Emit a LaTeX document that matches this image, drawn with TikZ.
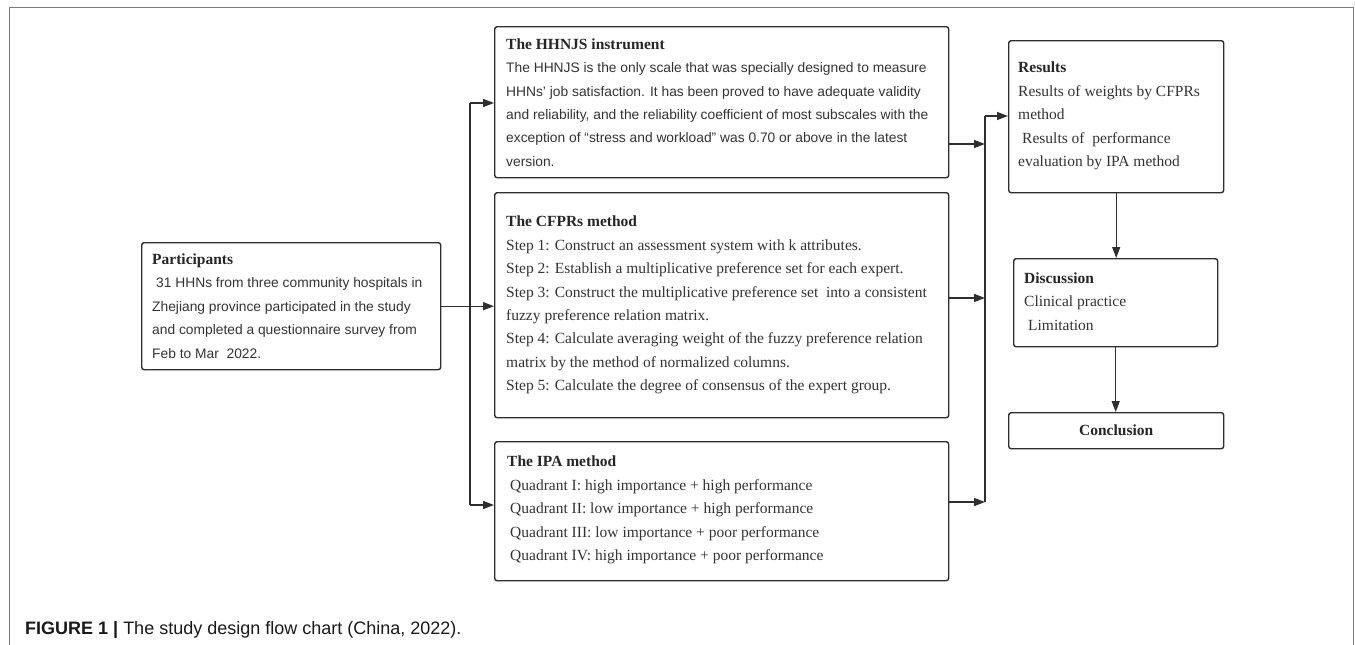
\documentclass[tikz,border=0pt]{standalone}
\usepackage{fontspec}
\setmainfont{Liberation Serif}
\setsansfont{Liberation Sans}
\usetikzlibrary{arrows.meta}
\definecolor{ln}{HTML}{2E2E2E}
\definecolor{tx}{HTML}{333333}
\definecolor{frm}{HTML}{7A7A7A}
\newcommand\bsans{\sffamily\fontsize{13.8}{23.4}\selectfont}
\newcommand\bser{\rmfamily\fontsize{15.5}{23.4}\selectfont}
\newcommand\hd[1]{{\rmfamily\bfseries\fontsize{15.5}{23.4}\selectfont\color{black!85}#1}}
\begin{document}
\begin{tikzpicture}[x=1pt,y=-1pt,
  box/.style={draw=ln, line width=1.4pt, rounded corners=2.5pt, inner sep=0pt, anchor=north west},
  txt/.style={anchor=west, align=left, inner sep=0pt, text=tx, font=\fontsize{15.5}{23.4}\selectfont},
  conn/.style={draw=ln, line width=1.4pt},
  arr/.style={conn, -{Triangle[length=11pt,width=8pt]}},
]
\useasboundingbox (0,0) rectangle (1355,645);
\draw[frm, line width=1pt] (9,645) -- (9,7) -- (1353,7) -- (1353,645);

% boxes
\node[box, minimum width=299pt, minimum height=127pt] (part) at (141,242) {};
\node[box, minimum width=454pt, minimum height=151pt] (hh) at (494,26) {};
\node[box, minimum width=454pt, minimum height=225pt] (cf) at (494,192) {};
\node[box, minimum width=454pt, minimum height=139pt] (ipa) at (494,441) {};
\node[box, minimum width=215pt, minimum height=152pt] (res) at (1008,40) {};
\node[box, minimum width=204pt, minimum height=88pt] (dis) at (1013,258) {};
\node[box, minimum width=215pt, minimum height=36pt] (con) at (1008,412) {};

% texts
\node[txt] (partt) at (152,306) {\hd{Participants}\\
\bsans\hspace*{4pt}31 HHNs from three community hospitals in\\
\bsans Zhejiang province participated in the study\\
\bsans and completed a questionnaire survey from\\
\bsans Feb to Mar\ \ 2022.};

\node[txt] (hht) at (506,102.5) {\hd{The HHNJS instrument}\\
\bsans The HHNJS is the only scale that was specially designed to measure\\
\bsans HHNs' job satisfaction. It has been proved to have adequate validity\\
\bsans and reliability, and the reliability coefficient of most subscales with the\\
\bsans exception of “stress and workload” was 0.70 or above in the latest\\
\bsans version.};

\node[txt] (cft) at (506,305) {\hd{The CFPRs method}\\
\bser Step 1: Construct an assessment system with k attributes.\\
\bser Step 2: Establish a multiplicative preference set for each expert.\\
\bser Step 3: Construct the multiplicative preference set\ \ into a consistent\\
\bser fuzzy preference relation matrix.\\
\bser Step 4: Calculate averaging weight of the fuzzy preference relation\\
\bser matrix by the method of normalized columns.\\
\bser Step 5: Calculate the degree of consensus of the expert group.};

\node[txt] (ipat) at (507,510) {\hd{The IPA method}\\
\bser\hspace*{3pt}Quadrant I: high importance + high performance\\
\bser\hspace*{3pt}Quadrant II: low importance + high performance\\
\bser\hspace*{3pt}Quadrant III: low importance + poor performance\\
\bser\hspace*{3pt}Quadrant IV: high importance + poor performance};

\node[txt] (rest) at (1018,116) {\hd{Results}\\
\bser Results of weights by CFPRs\\
\bser method\\
\bser\hspace*{4pt}Results of\ \ performance\\
\bser evaluation by IPA method};

\node[txt] (dist) at (1024,301.5) {\hd{Discussion}\\
\bser Clinical practice\\
\bser\hspace*{4pt}Limitation};

\node[inner sep=0pt] (cont) at (con.center) {\hd{Conclusion}};

% caption
\node[anchor=base west, inner sep=0pt, text=black!90, font=\sffamily\fontsize{18}{20}\selectfont] (cap) at (25,634) {\textbf{FIGURE 1 |} The study design flow chart (China, 2022).};

% connectors left
\coordinate (busA1) at (470,103);
\coordinate (busA3) at (470,505);
\draw[conn] (busA1) -- (busA3);
\draw[arr] (busA1) -- (hh.west |- busA1);
\draw[arr] (part.east) -- (cf.west |- part.east);
\draw[arr] (busA3) -- (ipa.west |- busA3);

% connectors right
\coordinate (busB1) at (985,116);
\coordinate (busB2) at (985,502);
\coordinate (yh) at (0,144);
\coordinate (yc) at (0,298);
\draw[conn] (busB1) -- (busB2);
\draw[arr] (hh.east |- yh) -- (busB1 |- yh);
\draw[arr] (cf.east |- yc) -- (busB1 |- yc);
\draw[arr] (ipa.east |- busB2) -- (busB2);
\draw[arr] (busB1) -- (res.west |- busB1);
\draw[arr] (res.south) -- (res.south |- dis.north);
\draw[arr] (dis.south) -- (dis.south |- con.north);
\end{tikzpicture}
\end{document}
